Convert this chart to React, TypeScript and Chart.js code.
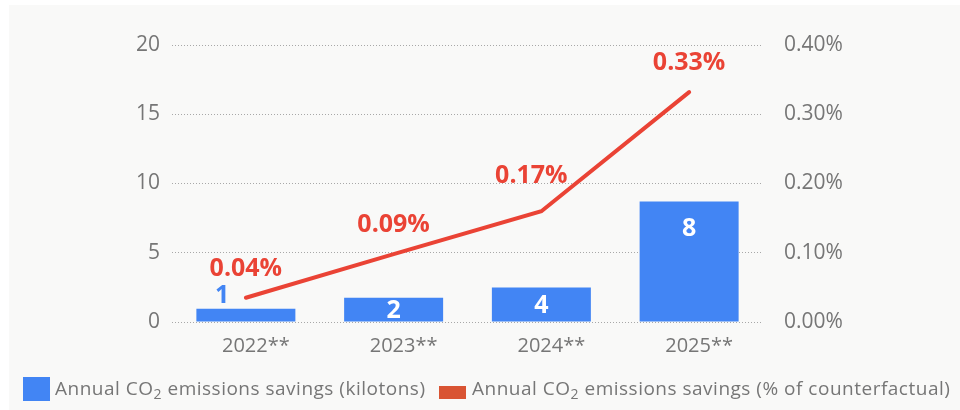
import React, { useEffect, useRef } from "react";
import { Chart, registerables } from "chart.js";

Chart.register(...registerables);

const categories = ["2022**", "2023**", "2024**", "2025**"];
const savingsKilotons = [0.95, 1.75, 2.5, 8.7];
const savingsKilotonLabels = ["1", "2", "4", "8"];
const savingsPercent = [0.035, 0.098, 0.16, 0.332];
const savingsPercentLabels = ["0.04%", "0.09%", "0.17%", "0.33%"];
const leftAxisMax = 20;
const leftAxisStep = 5;
const rightAxisMax = 0.4;
const rightAxisStep = 0.1;
const legendLabels = ["Annual CO", " emissions savings (kilotons)", " emissions savings (% of counterfactual)"];

const BLUE = "#4285f4";
const RED = "#ea4335";
const LEGEND_RED = "#d95433";
const GRAY = "#767676";
const FONT = "'Open Sans', sans-serif";

const labelPlugin = {
  id: "valueLabels",
  afterDatasetsDraw(chart: any) {
    const ctx = chart.ctx;
    ctx.save();
    ctx.textAlign = "center";
    ctx.textBaseline = "middle";
    ctx.font = `bold 25px ${FONT}`;
    const bars = chart.getDatasetMeta(0).data;
    bars.forEach((bar: any, i: number) => {
      const p = bar.getProps(["x", "y", "base", "width"], true);
      const h = p.base - p.y;
      const label = savingsKilotonLabels[i];
      if (h < 20) {
        ctx.fillStyle = BLUE;
        ctx.fillText(label, p.x - p.width * 0.24, p.y - 13);
      } else if (h < 60) {
        ctx.fillStyle = "#ffffff";
        ctx.fillText(label, p.x, (p.y + p.base) / 2 + 1);
      } else {
        ctx.fillStyle = "#ffffff";
        ctx.fillText(label, p.x, p.y + 27);
      }
    });
    const pts = chart.getDatasetMeta(1).data;
    ctx.fillStyle = RED;
    pts.forEach((pt: any, i: number) => {
      const p = pt.getProps(["x", "y"], true);
      const next = pts[i + 1] ? pts[i + 1].getProps(["x", "y"], true) : null;
      // shift the label left when the following segment climbs steeply
      const steep = next && (p.y - next.y) / (next.x - p.x) > 0.5;
      ctx.fillText(savingsPercentLabels[i], p.x - (steep ? 10 : 0), p.y - (steep ? 35 : 29));
    });
    ctx.restore();
  },
};

export default function App() {
  const canvasRef = useRef<HTMLCanvasElement | null>(null);

  useEffect(() => {
    document.body.style.margin = "0";
    const canvas = canvasRef.current;
    if (!canvas) return;
    const chart = new Chart(canvas, {
      type: "bar",
      data: {
        labels: categories,
        datasets: [
          {
            type: "bar",
            label: "Annual CO2 emissions savings (kilotons)",
            data: savingsKilotons,
            backgroundColor: BLUE,
            yAxisID: "y",
            barPercentage: 0.67,
            categoryPercentage: 1,
            order: 2,
          },
          {
            type: "line",
            label: "Annual CO2 emissions savings (% of counterfactual)",
            data: savingsPercent,
            borderColor: RED,
            backgroundColor: RED,
            borderWidth: 4,
            pointRadius: 0,
            borderCapStyle: "round",
            tension: 0,
            yAxisID: "y1",
            order: 1,
          } as any,
        ],
      },
      options: {
        responsive: false,
        animation: false,
        layout: { padding: { top: 45, left: 0, right: 0, bottom: 0 } },
        plugins: {
          legend: { display: false },
          tooltip: { enabled: false },
        },
        scales: {
          x: {
            grid: { display: false, drawTicks: false },
            border: { display: false },
            ticks: {
              color: GRAY,
              font: { family: FONT, size: 20 },
              padding: 12,
              labelOffset: 10,
            },
            afterFit: (s: any) => {
              s.height = 88;
            },
          },
          y: {
            position: "left",
            min: 0,
            max: leftAxisMax,
            ticks: {
              stepSize: leftAxisStep,
              color: GRAY,
              font: { family: FONT, size: 21 },
              padding: 12,
            },
            grid: { color: "#a8a8a8", drawTicks: false, lineWidth: 1 },
            border: { display: false, dash: [1, 2] },
            afterFit: (s: any) => {
              s.width = 172;
            },
          },
          y1: {
            position: "right",
            min: 0,
            max: rightAxisMax,
            ticks: {
              stepSize: rightAxisStep,
              color: GRAY,
              font: { family: FONT, size: 21 },
              padding: 21,
              callback: (v: any) => Number(v).toFixed(2) + "%",
            },
            grid: { display: false, drawTicks: false },
            border: { display: false },
            afterFit: (s: any) => {
              s.width = 197;
            },
          },
        },
      },
      plugins: [labelPlugin],
    });
    return () => chart.destroy();
  }, []);

  const textStyle: React.CSSProperties = {
    fontFamily: FONT,
    fontSize: 19,
    letterSpacing: "0.5px",
    color: GRAY,
    whiteSpace: "nowrap",
    position: "absolute",
    top: 376,
    lineHeight: "24px",
  };
  const sub: React.CSSProperties = { fontSize: 14, position: "relative", top: 4 };

  return (
    <div style={{ position: "relative", width: 960, height: 410, background: "#ffffff", overflow: "hidden" }}>
      <div style={{ position: "absolute", left: 9, top: 5, right: 0, bottom: 0, background: "#f9f9f8" }} />
      <canvas ref={canvasRef} width={960} height={410} style={{ position: "absolute", left: 0, top: 0 }} />
      <div style={{ position: "absolute", left: 23, top: 377, width: 27, height: 24, background: BLUE }} />
      <div style={{ ...textStyle, left: 55 }}>
        {legendLabels[0]}
        <span style={sub}>2</span>
        {legendLabels[1]}
      </div>
      <div style={{ position: "absolute", left: 439, top: 386, width: 27, height: 13, background: LEGEND_RED }} />
      <div style={{ ...textStyle, left: 472 }}>
        {legendLabels[0]}
        <span style={sub}>2</span>
        {legendLabels[2]}
      </div>
    </div>
  );
}
